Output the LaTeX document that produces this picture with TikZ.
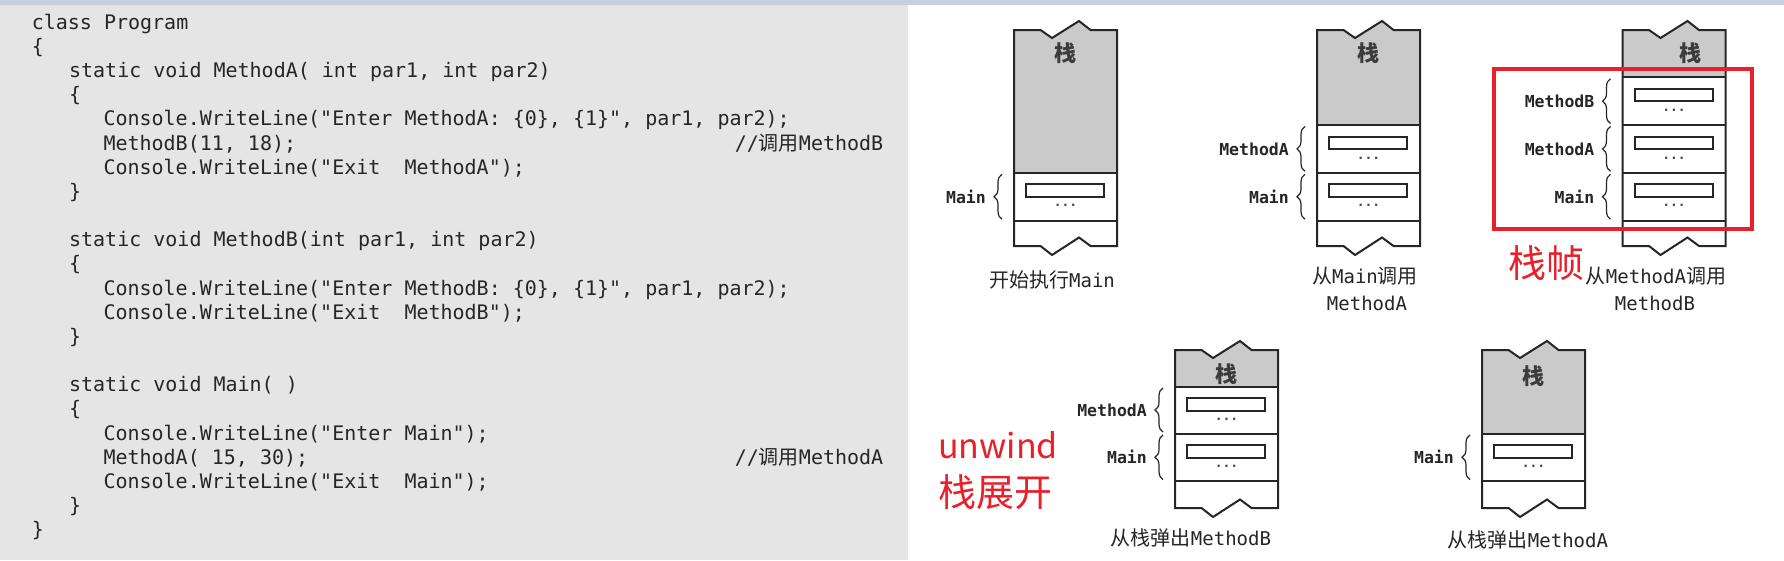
\documentclass[tikz,border=0pt]{standalone}
\usepackage{fontspec}
\usetikzlibrary{decorations.pathreplacing}
\newfontfamily\codefont[Ligatures=TeXOff]{DejaVu Sans Mono}
\newfontfamily\codecjk{Noto Sans CJK SC}
\newfontfamily\cjk{Noto Sans CJK SC}
\newfontfamily\mono{DejaVu Sans Mono}
\definecolor{codebg}{HTML}{E5E5E5}
\definecolor{band}{HTML}{C8D0DF}
\definecolor{stackgray}{HTML}{CACACA}
\definecolor{ink}{HTML}{262626}
\definecolor{redmark}{HTML}{E8202A}
\tikzset{
  codeline/.style={anchor=base west, inner sep=0pt, text=ink, font=\codefont\fontsize{20}{24}\selectfont},
  stackedge/.style={draw=ink, line width=2pt, line join=miter},
  slot/.style={draw=ink, line width=2pt},
  dots/.style={inner sep=0pt, text=ink!85, font=\mono\bfseries\fontsize{13}{13}\selectfont},
  bracestyle/.style={draw=ink, line width=1.2pt, decorate, decoration={brace, amplitude=8pt}},
  framelabel/.style={anchor=east, inner sep=0pt, text=ink, font=\mono\bfseries\fontsize{16.5}{18}\selectfont},
  stacklabel/.style={inner sep=0pt, text=ink!90, font=\cjk\bfseries\fontsize{22}{24}\selectfont},
  caption/.style={anchor=base, inner sep=0pt, text=ink, font=\fontsize{20}{24}\selectfont},
  redtext/.style={inner sep=0pt, text=redmark, font=\cjk\fontsize{34}{40}\selectfont},
}
% L, T, G (end of grey), B, name
\newcommand\stackbody[5]{%
  \fill[stackgray] (#1,#2) -- ({#1+26.5},#2) -- ({#1+38},{#2+8}) -- ({#1+65},{#2-9}) -- ({#1+76.5},#2) -- ({#1+103},#2) -- ({#1+103},#3) -- (#1,#3) -- cycle;
  \draw[stackedge] (#1,#2) -- ({#1+26.5},#2) -- ({#1+38},{#2+8}) -- ({#1+65},{#2-9}) -- ({#1+76.5},#2) -- ({#1+103},#2) -- ({#1+103},#4) -- ({#1+76.5},#4) -- ({#1+65},{#4-8.5}) -- ({#1+38},{#4+9}) -- ({#1+26.5},#4) -- (#1,#4) -- cycle;
  \draw[stackedge] (#1,#3) -- ({#1+103},#3);
  \coordinate (#5) at (#1,#2);
}
% L, top, bottom, label, name
\newcommand\frameslot[5]{%
  \draw[stackedge] (#1,#3) -- ({#1+103},#3);
  \draw[slot] ({#1+12},{#2+11.5}) rectangle ({#1+90},{#2+24});
  \node[dots] (#5-dots) at ({#1+51.5},{#2+33}) {...};
  \draw[bracestyle] ({#1-12},{#3-1.5}) -- ({#1-12},{#2+1.5});
  \node[framelabel] (#5-lab) at ({#1-28},{(#2+#3)/2}) {#4};
}
\begin{document}
\begin{tikzpicture}[x=1pt,y=-1pt]
\useasboundingbox (0,0) rectangle (1784,560);
\fill[white] (0,0) rectangle (1784,560);
\fill[codebg] (0,5) rectangle (908,560);
\fill[band] (0,0) rectangle (1784,5);

% ---- code ----
\node[codeline] (c1) at (31.6,29.3) {class Program};
\node[codeline] (c2) at (31.6,53.46) {\{};
\node[codeline] (c3) at (68.9,77.62) {static void MethodA( int par1, int par2)};
\node[codeline] (c4) at (68.9,101.78) {\{};
\node[codeline] (c5) at (103.3,125.94) {Console.WriteLine("Enter MethodA: \{0\}, \{1\}", par1, par2);};
\node[codeline] (c6) at (103.3,150.1) {MethodB(11, 18);};
\node[codeline] (k6) at (734.7,150.1) {//{\codecjk 调用}MethodB};
\node[codeline] (c7) at (103.3,174.26) {Console.WriteLine("Exit\ \ MethodA");};
\node[codeline] (c8) at (68.9,198.42) {\}};
\node[codeline] (c10) at (68.9,246.74) {static void MethodB(int par1, int par2)};
\node[codeline] (c11) at (68.9,270.9) {\{};
\node[codeline] (c12) at (103.3,295.06) {Console.WriteLine("Enter MethodB: \{0\}, \{1\}", par1, par2);};
\node[codeline] (c13) at (103.3,319.22) {Console.WriteLine("Exit\ \ MethodB");};
\node[codeline] (c14) at (68.9,343.38) {\}};
\node[codeline] (c16) at (68.9,391.7) {static void Main( )};
\node[codeline] (c17) at (68.9,415.86) {\{};
\node[codeline] (c18) at (103.3,440.02) {Console.WriteLine("Enter Main");};
\node[codeline] (c19) at (103.3,464.18) {MethodA( 15, 30);};
\node[codeline] (k19) at (734.7,464.18) {//{\codecjk 调用}MethodA};
\node[codeline] (c20) at (103.3,488.34) {Console.WriteLine("Exit\ \ Main");};
\node[codeline] (c21) at (68.9,512.5) {\}};
\node[codeline] (c22) at (31.6,536.66) {\}};

% ---- stack 1 ----
\stackbody{1014}{30}{172.8}{246}{s1}
\frameslot{1014}{172.8}{220.7}{Main}{s1m}
\node[stacklabel] (s1z) at (1065.5,53) {栈};
\node[caption] (s1c) at (1052,287.5) {{\cjk 开始执行}{\mono\fontsize{19}{24}\selectfont Main}};

% ---- stack 2 ----
\stackbody{1317}{30}{125}{246}{s2}
\frameslot{1317}{125}{172.8}{MethodA}{s2a}
\frameslot{1317}{172.8}{220.7}{Main}{s2m}
\node[stacklabel] (s2z) at (1368.5,53) {栈};
\node[caption] (s2c) at (1365,283.5) {{\cjk 从}{\mono\fontsize{19}{24}\selectfont Main}{\cjk 调用}};
\node[caption] (s2d) at (1367,310) {{\mono\fontsize{19}{24}\selectfont MethodA}};

% ---- stack 3 ----
\stackbody{1622.5}{30}{77.3}{246}{s3}
\frameslot{1622.5}{77.3}{125}{MethodB}{s3b}
\frameslot{1622.5}{125}{172.8}{MethodA}{s3a}
\frameslot{1622.5}{172.8}{220.7}{Main}{s3m}
\node[stacklabel] (s3z) at (1690,53) {栈};
\node[caption] (s3c) at (1656,283.5) {{\cjk 从}{\mono\fontsize{19}{24}\selectfont MethodA}{\cjk 调用}};
\node[caption] (s3d) at (1655,310) {{\mono\fontsize{19}{24}\selectfont MethodB}};

% ---- stack 4 ----
\stackbody{1175}{350}{386.5}{508}{s4}
\frameslot{1175}{386.5}{433.5}{MethodA}{s4a}
\frameslot{1175}{433.5}{481}{Main}{s4m}
\node[stacklabel] (s4z) at (1226.5,374) {栈};
\node[caption] (s4c) at (1191,545.5) {{\cjk 从栈弹出}{\mono\fontsize{19}{24}\selectfont MethodB}};

% ---- stack 5 ----
\stackbody{1482}{350}{433.5}{508}{s5}
\frameslot{1482}{433.5}{481}{Main}{s5m}
\node[stacklabel] (s5z) at (1533.5,376) {栈};
\node[caption] (s5c) at (1528,547.5) {{\cjk 从栈弹出}{\mono\fontsize{19}{24}\selectfont MethodA}};

% ---- red annotations ----
\draw[redmark, line width=4pt] (1494,69) rectangle (1752,229);
\node[redtext, font=\cjk\fontsize{38}{40}\selectfont] (zhen) at (1546,263) {栈帧};
\node[redtext, anchor=base west] (unw) at (938,458) {unwind};
\node[redtext, anchor=west, font=\cjk\fontsize{38}{40}\selectfont] (zk) at (938,491.7) {栈展开};
\end{tikzpicture}
\end{document}
